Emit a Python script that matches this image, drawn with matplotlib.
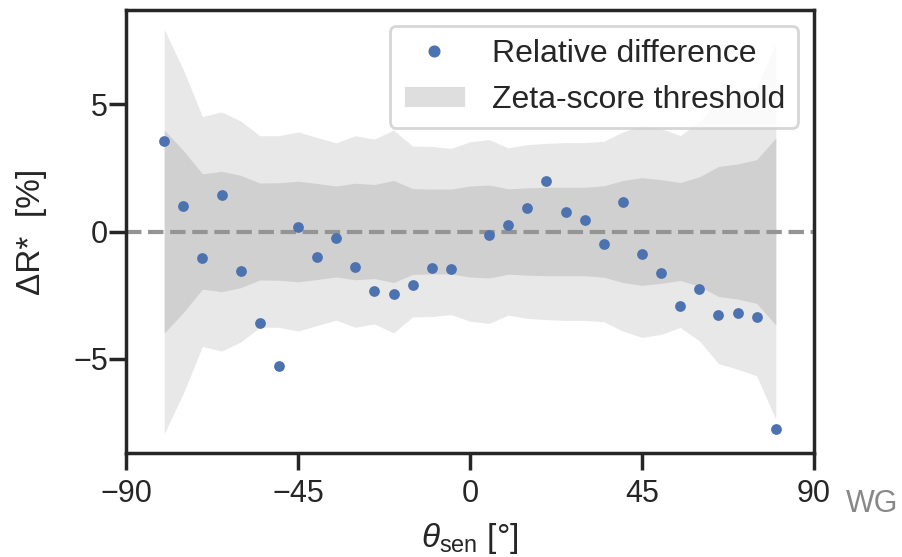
import matplotlib
matplotlib.use("Agg")
import matplotlib.pyplot as plt
import seaborn as sns
from matplotlib.lines import Line2D
from matplotlib.patches import Patch

# sensor angles of the measured points (no point at 0)
angles = [-80, -75, -70, -65, -60, -55, -50, -45, -40, -35, -30, -25, -20, -15, -10, -5,
          5, 10, 15, 20, 25, 30, 35, 40, 45, 50, 55, 60, 65, 70, 75, 80]
# relative difference [%]
rel_diff = [3.58, 1.02, -1.06, 1.42, -1.54, -3.62, -5.28, 0.16, -1.02, -0.24, -1.38, -2.36,
            -2.48, -2.09, -1.42, -1.46,
            -0.12, 0.24, 0.94, 1.97, 0.75, 0.47, -0.51, 1.18, -0.87, -1.65, -2.95, -2.28,
            -3.27, -3.19, -3.35, -7.76]

# zeta-score threshold bands (half widths)
band_angles = [-80, -75, -70, -65, -60, -55, -50, -45, -40, -35, -30, -25, -20, -15, -10, -5, 0,
               5, 10, 15, 20, 25, 30, 35, 40, 45, 50, 55, 60, 65, 70, 75, 80]
zeta_1 = [4.00, 3.19, 2.27, 2.37, 2.21, 1.91, 1.92, 1.98, 1.89, 1.79, 1.90, 1.85, 2.01, 1.69,
          1.67, 1.67, 1.79, 1.83, 1.68, 1.72, 1.74, 1.74, 1.74, 1.80, 2.01, 2.12, 2.04, 1.93,
          2.15, 2.56, 2.66, 2.83, 3.68]
zeta_2 = [7.95, 6.37, 4.52, 4.71, 4.35, 3.77, 3.77, 3.92, 3.70, 3.49, 3.77, 3.64, 3.99, 3.36,
          3.35, 3.27, 3.53, 3.62, 3.29, 3.42, 3.47, 3.50, 3.50, 3.55, 3.92, 4.17, 4.05, 3.78,
          4.30, 5.20, 5.42, 5.68, 7.40]

sns.set_theme(style="ticks", context="poster")
plt.rcParams["font.family"] = ["Liberation Sans", "DejaVu Sans"]
plt.rcParams["mathtext.fontset"] = "custom"
plt.rcParams["mathtext.rm"] = "Liberation Sans"
plt.rcParams["mathtext.it"] = "Liberation Sans:italic"
plt.rcParams["mathtext.bf"] = "Liberation Sans:bold"

fig = plt.figure(figsize=(9.02, 5.57), dpi=100)
ax = fig.add_axes([126 / 902, 1 - 453 / 557, 688 / 902, 443 / 557])

ax.fill_between(band_angles, [-v for v in zeta_2], zeta_2, color="#e8e8e8", lw=0)
ax.fill_between(band_angles, [-v for v in zeta_1], zeta_1, color="#d0d0d0", lw=0)
ax.axhline(0, color="#949494", lw=3, ls="--", zorder=2)
ax.scatter(angles, rel_diff, s=60, color="#4c72b0", lw=0, zorder=3)

ax.set_xlim(-90, 90)
ax.set_ylim(-8.72, 8.72)
ax.set_xticks([-90, -45, 0, 45, 90])
ax.set_yticks([-5, 0, 5])
ax.tick_params(axis="x", pad=7)
ax.tick_params(axis="y", pad=1)

ax.set_xlabel(r"$\theta_{\rm sen}$ [°]", fontsize=24, labelpad=8)
ax.set_ylabel("ΔR*  [%]", fontsize=24, labelpad=19)

handles = [Line2D([], [], marker="o", ls="", color="#4c72b0", markersize=7.7),
           Patch(facecolor="#dedede")]
ax.legend(handles, ["Relative difference", "Zeta-score threshold"],
          loc="upper right", fontsize=23)

fig.text(846 / 902, 1 - 512 / 557, "WG", ha="left", va="baseline",
         fontsize=22, color="#888888")

fig.savefig("out.png", dpi=100)
